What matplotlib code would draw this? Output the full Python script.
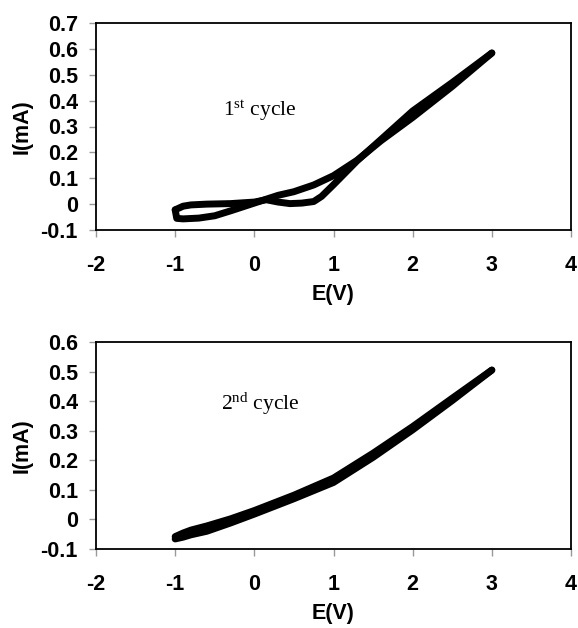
import matplotlib
matplotlib.use("Agg")
import matplotlib.pyplot as plt

plt.rcParams['mathtext.fontset'] = 'custom'
plt.rcParams['mathtext.rm'] = 'Liberation Serif'

# 1st cycle: forward scan (-1 -> 3) and reverse scan (3 -> -1)
c1_fwd_E = [-1.0, -0.9, -0.8, -0.6, -0.3, 0.0, 0.15, 0.3, 0.45, 0.6, 0.75, 0.85, 1.0, 1.3, 1.6, 2.0, 2.5, 3.0]
c1_fwd_I = [-0.022, -0.008, -0.003, 0.0, 0.002, 0.008, 0.017, 0.008, 0.002, 0.004, 0.010, 0.030, 0.075, 0.168, 0.250, 0.360, 0.470, 0.584]
c1_rev_E = [3.0, 2.5, 2.0, 1.6, 1.3, 1.0, 0.75, 0.5, 0.3, 0.0, -0.3, -0.5, -0.7, -0.9, -0.98, -1.0]
c1_rev_I = [0.584, 0.455, 0.335, 0.245, 0.170, 0.110, 0.074, 0.048, 0.034, 0.004, -0.026, -0.045, -0.054, -0.057, -0.055, -0.022]

# 2nd cycle
c2_fwd_E = [-1.0, -0.9, -0.8, -0.6, -0.3, 0.0, 0.5, 1.0, 1.5, 2.0, 2.5, 3.0]
c2_fwd_I = [-0.066, -0.060, -0.052, -0.040, -0.012, 0.018, 0.070, 0.125, 0.210, 0.303, 0.402, 0.505]
c2_rev_E = [3.0, 2.5, 2.0, 1.5, 1.0, 0.5, 0.0, -0.3, -0.6, -0.8, -0.9, -1.0]
c2_rev_I = [0.505, 0.410, 0.314, 0.224, 0.140, 0.082, 0.030, 0.002, -0.022, -0.036, -0.046, -0.058]

x_ticks = [-2, -1, 0, 1, 2, 3, 4]
y_ticks_1 = [-0.1, 0, 0.1, 0.2, 0.3, 0.4, 0.5, 0.6, 0.7]
y_ticks_2 = [-0.1, 0, 0.1, 0.2, 0.3, 0.4, 0.5, 0.6]


def fmt(v):
    s = ('%.1f' % v)
    if s in ('0.0', '-0.0'):
        return '0'
    if s.endswith('.0'):
        s = s[:-2]
    return s


fig = plt.figure(figsize=(5.78, 6.28), dpi=100)
W, H = 578.0, 628.0

panels = [
    (23, 230, y_ticks_1, (-0.1, 0.7), c1_fwd_E, c1_fwd_I, c1_rev_E, c1_rev_I,
     r'$\mathrm{1^{st}}$ cycle', (-0.4, 0.36)),
    (342, 549, y_ticks_2, (-0.1, 0.6), c2_fwd_E, c2_fwd_I, c2_rev_E, c2_rev_I,
     r'$\mathrm{2^{nd}}$ cycle', (-0.42, 0.39)),
]

for top, bot, yt, ylim, fe, fi, re, ri, label, pos in panels:
    ax = fig.add_axes([96 / W, (H - bot) / H, 475 / W, (bot - top) / H])
    ax.plot(fe, fi, color='black', lw=5, solid_capstyle='round', solid_joinstyle='round')
    ax.plot(re, ri, color='black', lw=5, solid_capstyle='round', solid_joinstyle='round')
    ax.set_xlim(-2, 4)
    ax.set_ylim(*ylim)
    ax.set_xticks(x_ticks)
    ax.set_xticklabels([str(t) for t in x_ticks])
    ax.set_yticks(yt)
    ax.set_yticklabels([fmt(t) for t in yt])
    for lab in ax.get_xticklabels() + ax.get_yticklabels():
        lab.set_fontfamily('Liberation Sans')
        lab.set_fontweight('bold')
        lab.set_fontsize(15.5)
    ax.tick_params(axis='x', direction='out', length=5, width=1, color='#999999', pad=13)
    ax.tick_params(axis='y', direction='out', length=5, width=1, color='#999999', pad=8)
    for sp in ax.spines.values():
        sp.set_linewidth(1.3)
        sp.set_color('black')
    ax.set_xlabel('E(V)', fontfamily='Liberation Sans', fontweight='bold', fontsize=15.5, labelpad=6)
    ax.set_ylabel('I(mA)', fontfamily='Liberation Sans', fontweight='bold', fontsize=15.5, labelpad=6)
    ax.text(pos[0], pos[1], label, fontfamily='Liberation Serif', fontsize=15.5,
            va='center', ha='left')

fig.savefig('out.png', dpi=100)
